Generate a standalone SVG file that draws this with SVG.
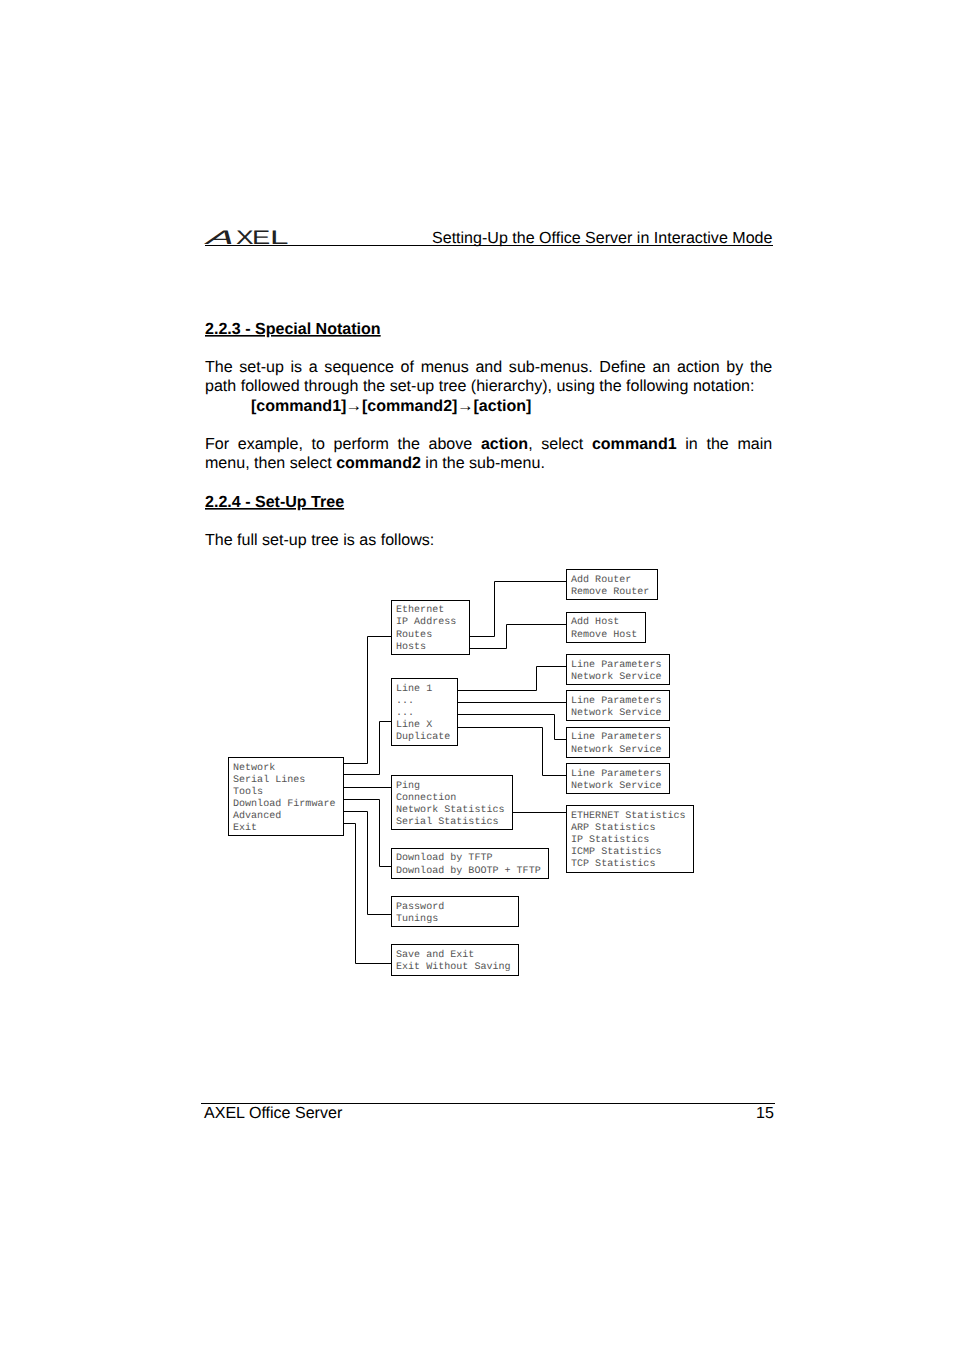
<svg xmlns="http://www.w3.org/2000/svg" width="954" height="1351" viewBox="0 0 954 1351">
<style>
text{text-rendering:geometricPrecision}
.b{fill:#fff;stroke:#000;stroke-width:1}
.c{fill:none;stroke:#000;stroke-width:1}
.m{font-family:"Liberation Mono",monospace;font-size:10.05px;fill:#555}
.t{font-family:"Liberation Sans",Arial,sans-serif;font-size:16.060px;fill:#000}
.h{font-weight:bold;text-decoration:underline}
.s{font-weight:bold}
.a{font-family:"Liberation Sans",Arial,sans-serif;font-size:16.500px;fill:#000}
.l{font-family:"Liberation Sans",Arial,sans-serif;font-size:19.500px;fill:#222}
</style>
<rect width="954" height="1351" fill="#fff"/>
<g id="header">
<text class="l" transform="translate(204 244) skewX(-30) scale(2.1 1)">A</text>
<text class="l" transform="translate(236 244) scale(1.35 1)">X</text>
<text class="l" transform="translate(252 244) scale(1.4 1)">E</text>
<text class="l" transform="translate(270 244) scale(1.7 1)">L</text>
<path class="c" d="M205 245.500H773"/>
<text class="t" x="432" y="243">Setting-Up the Office Server in Interactive Mode</text>
</g>
<g id="body">
<text class="t h" x="205" y="334">2.2.3 - Special Notation</text>
<text class="t" x="205" y="372" style="word-spacing:2.190px">The set-up is a sequence of menus and sub-menus. Define an action by the</text>
<text class="t" x="205" y="391">path followed through the set-up tree (hierarchy), using the following notation:</text>
<text class="t s" x="251" y="411">[command1]<tspan x="362">[command2]</tspan><tspan x="473.500">[action]</tspan></text>
<text class="a" x="345.500" y="411">→</text>
<text class="a" x="457" y="411">→</text>
<text class="t" x="205" y="449" style="word-spacing:4.210px">For example, to perform the above <tspan class="s">action</tspan>, select <tspan class="s">command1</tspan> in the main</text>
<text class="t" x="205" y="468">menu, then select <tspan class="s">command2</tspan> in the sub-menu.</text>
<text class="t h" x="205" y="507">2.2.4 - Set-Up Tree</text>
<text class="t" x="205" y="545">The full set-up tree is as follows:</text>
</g>
<g id="connectors">
<path class="c" d="M469.500 636.500H494.500V581.500H566.500"/>
<path class="c" d="M469.500 648.500H506.500V624.500H566.500"/>
<path class="c" d="M457.500 690.500H536.500V666.500H566.500"/>
<path class="c" d="M457.500 702.500H566.500"/>
<path class="c" d="M457.500 714.500H554.500V739.500H566.500"/>
<path class="c" d="M457.500 727.500H542.500V775.500H566.500"/>
<path class="c" d="M343.500 763.500H367.500V636.500H391.500"/>
<path class="c" d="M343.500 774.500H379.500V721.500H391.500"/>
<path class="c" d="M343.500 787.500H391.500"/>
<path class="c" d="M343.500 799.500H379.500V866.500H391.500"/>
<path class="c" d="M343.500 811.500H367.500V914.500H391.500"/>
<path class="c" d="M343.500 823.500H355.500V963.500H391.500"/>
<path class="c" d="M512.500 812.500H566.500"/>
</g>
<g id="main"><rect class="b" x="228.500" y="757.500" width="115" height="78"/>
<text class="m" x="233" y="770">Network</text><text class="m" x="233" y="782">Serial Lines</text><text class="m" x="233" y="794">Tools</text><text class="m" x="233" y="806">Download Firmware</text><text class="m" x="233" y="818">Advanced</text><text class="m" x="233" y="830">Exit</text></g>
<g id="network"><rect class="b" x="391.500" y="600.500" width="78" height="54"/>
<text class="m" x="396" y="612">Ethernet</text><text class="m" x="396" y="624">IP Address</text><text class="m" x="396" y="637">Routes</text><text class="m" x="396" y="649">Hosts</text></g>
<g id="serial"><rect class="b" x="391.500" y="678.500" width="66" height="67"/>
<text class="m" x="396" y="691">Line 1</text><text class="m" x="396" y="703">...</text><text class="m" x="396" y="715">...</text><text class="m" x="396" y="727">Line X</text><text class="m" x="396" y="739">Duplicate</text></g>
<g id="tools"><rect class="b" x="391.500" y="775.500" width="121" height="54"/>
<text class="m" x="396" y="788">Ping</text><text class="m" x="396" y="800">Connection</text><text class="m" x="396" y="812">Network Statistics</text><text class="m" x="396" y="824">Serial Statistics</text></g>
<g id="firmware"><rect class="b" x="391.500" y="848.500" width="157" height="30"/>
<text class="m" x="396" y="860">Download by TFTP</text><text class="m" x="396" y="873">Download by BOOTP + TFTP</text></g>
<g id="advanced"><rect class="b" x="391.500" y="896.500" width="127" height="30"/>
<text class="m" x="396" y="909">Password</text><text class="m" x="396" y="921">Tunings</text></g>
<g id="exit"><rect class="b" x="391.500" y="944.500" width="127" height="31"/>
<text class="m" x="396" y="957">Save and Exit</text><text class="m" x="396" y="969">Exit Without Saving</text></g>
<g id="routes"><rect class="b" x="566.500" y="569.500" width="91" height="30"/>
<text class="m" x="571" y="582">Add Router</text><text class="m" x="571" y="594">Remove Router</text></g>
<g id="hosts"><rect class="b" x="566.500" y="612.500" width="79" height="30"/>
<text class="m" x="571" y="624">Add Host</text><text class="m" x="571" y="637">Remove Host</text></g>
<g id="line1"><rect class="b" x="566.500" y="654.500" width="103" height="30"/>
<text class="m" x="571" y="667">Line Parameters</text><text class="m" x="571" y="679">Network Service</text></g>
<g id="line2"><rect class="b" x="566.500" y="690.500" width="103" height="30"/>
<text class="m" x="571" y="703">Line Parameters</text><text class="m" x="571" y="715">Network Service</text></g>
<g id="line3"><rect class="b" x="566.500" y="727.500" width="103" height="30"/>
<text class="m" x="571" y="739">Line Parameters</text><text class="m" x="571" y="752">Network Service</text></g>
<g id="lineX"><rect class="b" x="566.500" y="763.500" width="103" height="30"/>
<text class="m" x="571" y="776">Line Parameters</text><text class="m" x="571" y="788">Network Service</text></g>
<g id="stats"><rect class="b" x="566.500" y="805.500" width="127" height="67"/>
<text class="m" x="571" y="818">ETHERNET Statistics</text><text class="m" x="571" y="830">ARP Statistics</text><text class="m" x="571" y="842">IP Statistics</text><text class="m" x="571" y="854">ICMP Statistics</text><text class="m" x="571" y="866">TCP Statistics</text></g>
<g id="footer">
<path class="c" d="M201 1103.500H775"/>
<text class="t" x="204" y="1118">AXEL Office Server</text>
<text class="t" x="756" y="1118">15</text>
</g>
</svg>
